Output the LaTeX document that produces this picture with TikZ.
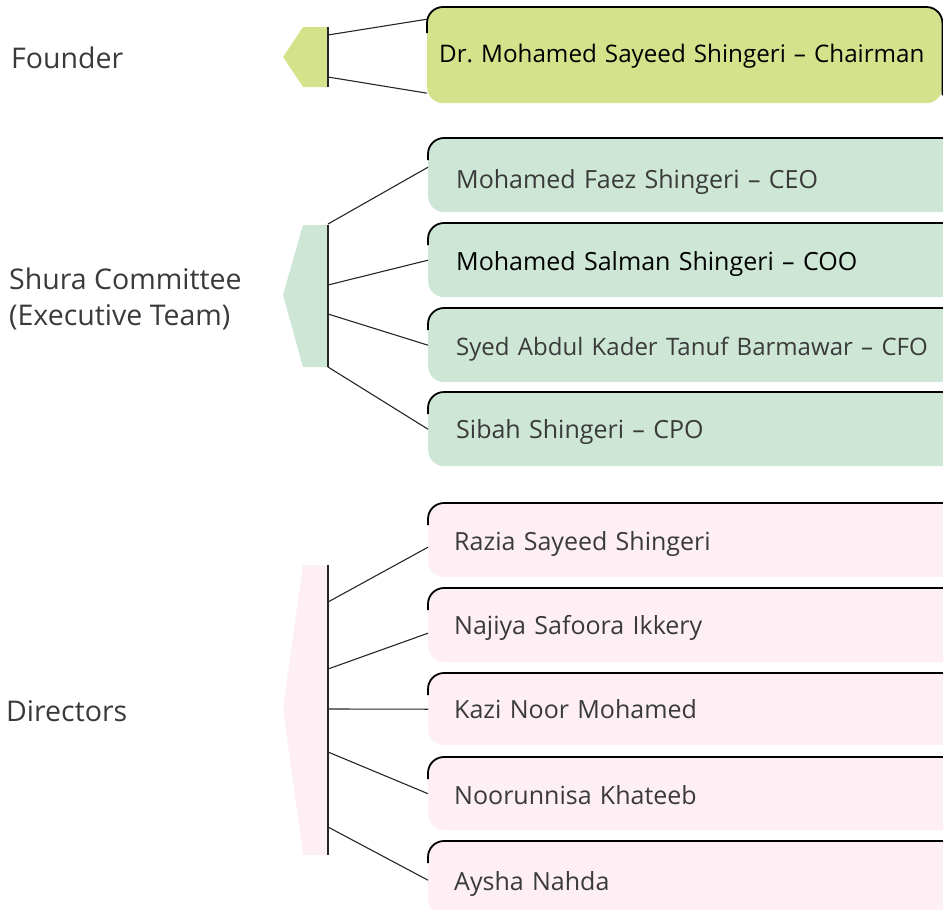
\documentclass[tikz,border=0pt]{standalone}
\usepackage{fontspec}
\setmainfont{Open Sans}
\usetikzlibrary{calc}
\definecolor{founderfill}{HTML}{D4E28B}
\definecolor{shurafill}{HTML}{CDE6D6}
\definecolor{dirfill}{HTML}{FDEFF3}
\definecolor{inktext}{HTML}{3A3A3A}
\tikzset{
  orgbox/.style={rectangle, rounded corners=16pt, draw=none, anchor=north west,
    inner ysep=0pt, text=inktext, align=left,
    font=\fontsize{25}{30}\selectfont},
  % baseline sits #1 below the box centre
  drop/.style={text height=20pt+#1, text depth=20pt-#1},
  topedge/.style={draw=black, line width=1.8pt, rounded corners=16pt},
  tabline/.style={draw=black!85, line width=1.2pt},
  link/.style={draw=black!85, line width=1.1pt},
  grouplabel/.style={anchor=west, inner sep=0pt, text=inktext, align=left,
    font=\fontsize{28.5}{36}\selectfont}
}
\begin{document}
\begin{tikzpicture}[x=1pt, y=-1pt]
\useasboundingbox (0,0) rectangle (943,910);
\clip (0,0) rectangle (943,910);

% ---- group labels ----
\node[grouplabel] (lfounder) at (11,58) {Founder};
\node[grouplabel] (lshura) at (9,299) {Shura Committee\\(Executive Team)};
\node[grouplabel] (ldirectors) at (6,711) {Directors};

% ---- group tabs ----
\fill[founderfill] (283,57) -- (303,27) -- (328,27) -- (328,87) -- (303,87) -- cycle;
\draw[tabline] (328,27) -- (328,87);
\fill[shurafill] (283,295) -- (303,225) -- (328,225) -- (328,367) -- (303,367) -- cycle;
\draw[tabline] (328,225) -- (328,367);
\fill[dirfill] (283,708) -- (303,565) -- (328,565) -- (328,855) -- (303,855) -- cycle;
\draw[tabline] (328,565) -- (328,855);

% ---- connector roots on the tabs ----
\coordinate (f0) at (328,35);
\coordinate (f1) at (328,77);
\coordinate (s0) at (328,224);
\coordinate (s1) at (328,285);
\coordinate (s2) at (328,314);
\coordinate (s3) at (328,367);
\coordinate (d0) at (328,602);
\coordinate (d1) at (328,669);
\coordinate (d2) at (328,709);
\coordinate (d3) at (328,752);
\coordinate (d4) at (328,827);

% ---- founder box ----
\node[orgbox, fill=founderfill, minimum width=515pt, minimum height=96pt,
      inner xsep=12pt, text width=491pt, text=black, drop=7pt,
      font=\fontsize{24.2}{29}\selectfont] (bf) at (427,7)
      {\mbox{Dr.\ Mohamed Sayeed Shingeri – Chairman}};
\draw[topedge] ($(bf.north west)+(0,-26pt)$) -- (bf.north west) -- (bf.north east)
      -- ($(bf.south east)+(0,8pt)$);

% ---- shura boxes ----
\foreach \nm/\yy/\dd/\txt/\col in {
  bs1/138/13/{Mohamed Faez Shingeri – CEO}/inktext,
  bs2/223/10/{Mohamed Salman Shingeri – COO}/black,
  bs3/308/10/{\fontsize{24}{29}\selectfont Syed Abdul Kader Tanuf Barmawar – CFO}/inktext,
  bs4/392/9.5/{Sibah Shingeri – CPO}/inktext}{
  \node[orgbox, fill=shurafill, minimum width=560pt, minimum height=74pt,
        inner xsep=28pt, text width=504pt, text=\col, drop=\dd pt] (\nm) at (428,\yy)
        {\mbox{\txt}};
  \draw[topedge] ($(\nm.north west)+(0,-22pt)$) -- (\nm.north west) -- (\nm.north east);
}

% ---- director boxes ----
\foreach \nm/\yy/\hh/\dd/\txt in {
  bd1/503/74/10/{Razia Sayeed Shingeri},
  bd2/588/74/9.5/{Najiya Safoora Ikkery},
  bd3/673/72/9.5/{Kazi Noor Mohamed},
  bd4/757/73/10.5/{Noorunnisa Khateeb},
  bd5/841/74/12.5/{Aysha Nahda}}{
  \node[orgbox, fill=dirfill, minimum width=560pt, minimum height=\hh pt,
        inner xsep=26pt, text width=508pt, drop=\dd pt] (\nm) at (428,\yy) {\txt};
  \draw[topedge] ($(\nm.north west)+(0,-22pt)$) -- (\nm.north west) -- (\nm.north east);
}

% ---- connectors ----
\draw[link] (f0) -- ([yshift=36pt]bf.west);
\draw[link] (f1) -- ([yshift=-38pt]bf.west);
\draw[link] (s0) -- ([yshift=8pt]bs1.west);
\draw[link] (s1) -- (bs2.west);
\draw[link] (s2) -- (bs3.west);
\draw[link] (s3) -- (bs4.west);
\draw[link] (d0) -- ([yshift=-7pt]bd1.west);
\draw[link] (d1) -- ([yshift=-8pt]bd2.west);
\draw[link] (d2) -- (bd3.west);
\draw[link] (d3) -- (bd4.west);
\draw[link] (d4) -- ([yshift=-2pt]bd5.west);
\end{tikzpicture}
\end{document}
